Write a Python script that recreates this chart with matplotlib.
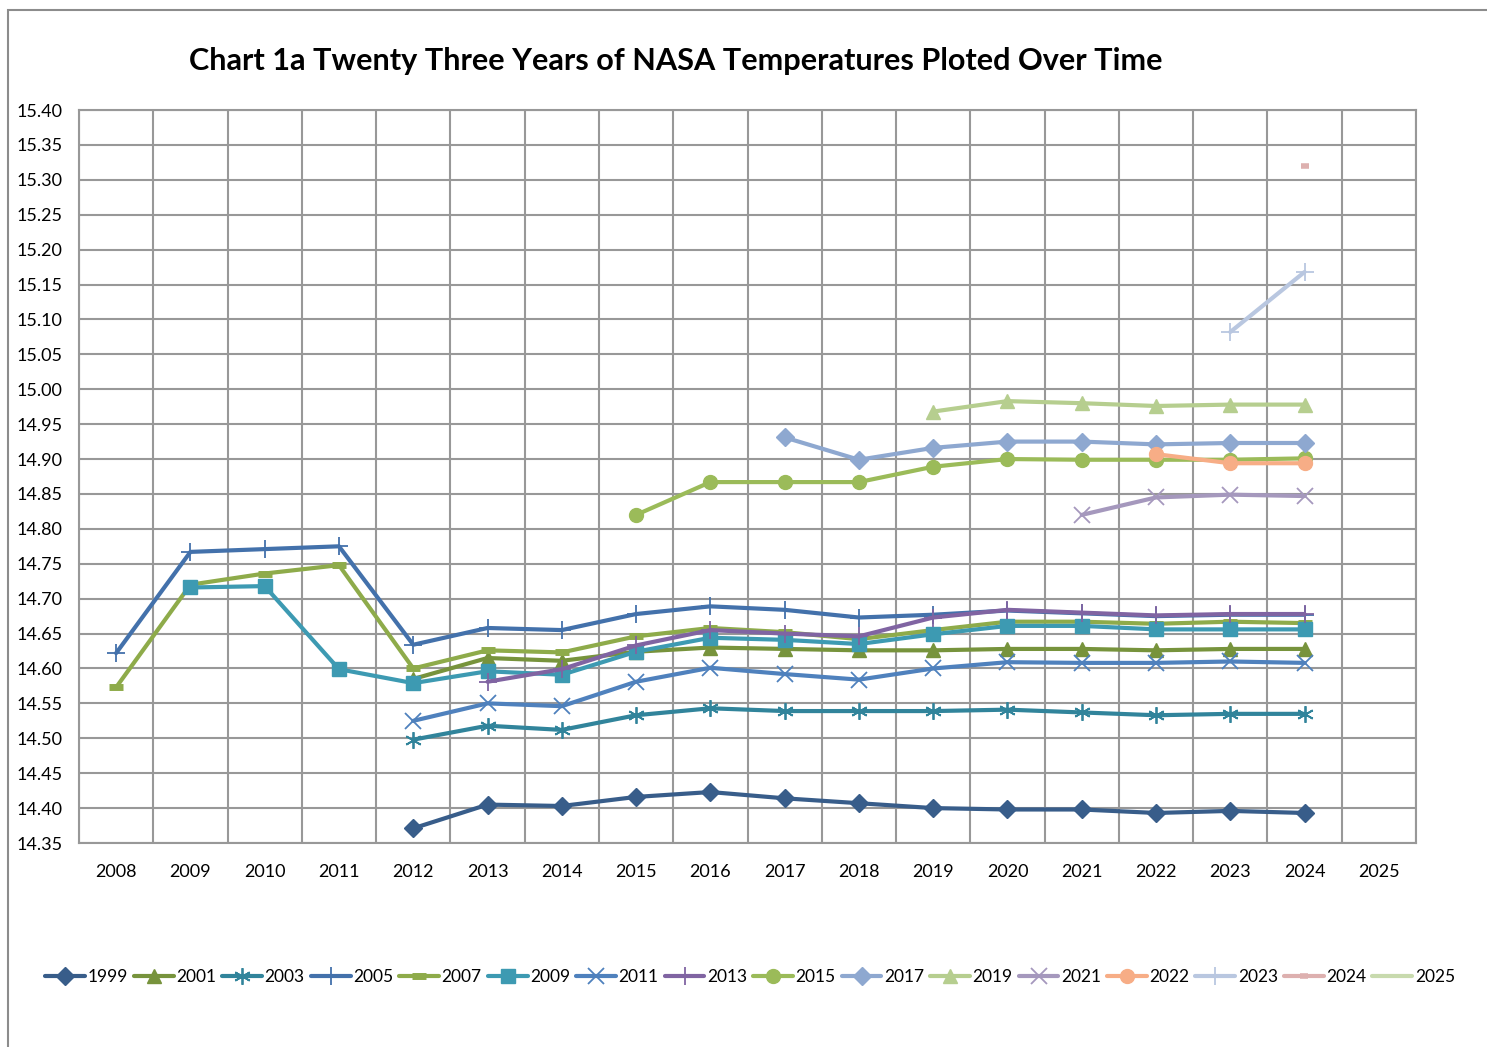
import numpy as np
import matplotlib
matplotlib.use("Agg")
import matplotlib.pyplot as plt
from matplotlib import font_manager
from matplotlib.patches import Rectangle

avail = {f.name for f in font_manager.fontManager.ttflist}
FONT = next((f for f in ["Lato", "Roboto", "Open Sans"] if f in avail), "DejaVu Sans")
plt.rcParams['font.family'] = [FONT, 'DejaVu Sans']

categories = [str(y) for y in range(2008, 2026)]
nan = np.nan

s1999 = [nan, nan, nan, nan, 14.371, 14.405, 14.403, 14.416, 14.423, 14.414, 14.407, 14.400, 14.398, 14.398, 14.393, 14.396, 14.393, nan]
s2001 = [nan, nan, nan, nan, 14.585, 14.615, 14.611, 14.624, 14.630, 14.628, 14.626, 14.626, 14.628, 14.628, 14.626, 14.628, 14.628, nan]
s2003 = [nan, nan, nan, nan, 14.498, 14.518, 14.512, 14.533, 14.543, 14.539, 14.539, 14.539, 14.541, 14.537, 14.533, 14.535, 14.535, nan]
s2005 = [14.622, 14.767, 14.771, 14.775, 14.634, 14.658, 14.655, 14.678, 14.689, 14.684, 14.673, 14.677, 14.683, 14.679, 14.675, 14.677, 14.677, nan]
s2007 = [14.573, 14.720, 14.736, 14.748, 14.600, 14.626, 14.623, 14.646, 14.658, 14.652, 14.642, 14.655, 14.667, 14.667, 14.664, 14.667, 14.665, nan]
s2009 = [nan, 14.716, 14.718, 14.599, 14.579, 14.596, 14.591, 14.624, 14.644, 14.641, 14.635, 14.649, 14.661, 14.661, 14.656, 14.656, 14.656, nan]
s2011 = [nan, nan, nan, nan, 14.525, 14.550, 14.546, 14.581, 14.601, 14.592, 14.584, 14.600, 14.609, 14.608, 14.608, 14.610, 14.608, nan]
s2013 = [nan, nan, nan, nan, nan, 14.581, 14.599, 14.633, 14.655, 14.650, 14.646, 14.673, 14.684, 14.680, 14.676, 14.678, 14.678, nan]
s2015 = [nan, nan, nan, nan, nan, nan, nan, 14.820, 14.867, 14.867, 14.867, 14.889, 14.900, 14.899, 14.899, 14.899, 14.901, nan]
s2017 = [nan, nan, nan, nan, nan, nan, nan, nan, nan, 14.931, 14.899, 14.916, 14.925, 14.925, 14.921, 14.923, 14.923, nan]
s2019 = [nan, nan, nan, nan, nan, nan, nan, nan, nan, nan, nan, 14.968, 14.983, 14.980, 14.976, 14.978, 14.978, nan]
s2021 = [nan, nan, nan, nan, nan, nan, nan, nan, nan, nan, nan, nan, nan, 14.820, 14.845, 14.849, 14.847, nan]
s2022 = [nan, nan, nan, nan, nan, nan, nan, nan, nan, nan, nan, nan, nan, nan, 14.907, 14.894, 14.894, nan]
s2023 = [nan, nan, nan, nan, nan, nan, nan, nan, nan, nan, nan, nan, nan, nan, nan, 15.082, 15.168, nan]
s2024 = [nan, nan, nan, nan, nan, nan, nan, nan, nan, nan, nan, nan, nan, nan, nan, nan, 15.320, nan]
s2025 = [nan] * 18

series_names = ["1999", "2001", "2003", "2005", "2007", "2009", "2011", "2013",
                "2015", "2017", "2019", "2021", "2022", "2023", "2024", "2025"]
series_values = [s1999, s2001, s2003, s2005, s2007, s2009, s2011, s2013,
                 s2015, s2017, s2019, s2021, s2022, s2023, s2024, s2025]

styles = {
    "1999": dict(color="#385D8A", marker="D", ms=9),
    "2001": dict(color="#77933C", marker="^", ms=10),
    "2003": dict(color="#31849B", marker=(6, 2, 0), ms=12, mew=1.3),
    "2005": dict(color="#4371AB", marker="+", ms=13, mew=1.3),
    "2007": dict(color="#8EAB4A", marker="_", ms=10, mew=5),
    "2009": dict(color="#3D9AB2", marker="s", ms=10),
    "2011": dict(color="#4F81BD", marker="x", ms=11, mew=1.3),
    "2013": dict(color="#8064A2", marker="+", ms=13, mew=1.3),
    "2015": dict(color="#9BBB59", marker="o", ms=10),
    "2017": dict(color="#8EA8D0", marker="D", ms=9),
    "2019": dict(color="#B6CE8F", marker="^", ms=10),
    "2021": dict(color="#A598BD", marker="x", ms=11, mew=1.3),
    "2022": dict(color="#F7AD86", marker="o", ms=10),
    "2023": dict(color="#B9C7E0", marker="+", ms=13, mew=1.3),
    "2024": dict(color="#DDB0AF", marker="_", ms=6, mew=4),
    "2025": dict(color="#C8DAAE", marker=None, ms=0),
}

fig = plt.figure(figsize=(14.87, 10.47), dpi=100)
ax = fig.add_axes([79/1487, 1 - 843/1047, (1416-79)/1487, (843-110)/1047])

x = np.arange(len(categories))
for name, vals in zip(series_names, series_values):
    st = styles[name]
    ax.plot(x, vals, color=st["color"], lw=3, marker=st["marker"], ms=st["ms"],
            mew=st.get("mew", 1), mec=st["color"], mfc=st["color"], label=name,
            solid_joinstyle="round", solid_capstyle="round")

ax.set_xlim(-0.5, len(categories) - 0.5)
ax.set_ylim(14.35, 15.40)
yt = np.round(np.arange(14.35, 15.401, 0.05), 2)
ax.set_yticks(yt)
ax.set_yticklabels([f"{v:.2f}" for v in yt])
ax.set_xticks(x)
ax.set_xticklabels(categories)
ax.set_xticks(np.arange(-0.5, len(categories), 1.0), minor=True)
ax.tick_params(axis="both", which="both", length=0, labelsize=13, colors="#000000")
ax.tick_params(axis="x", pad=15)
ax.tick_params(axis="y", pad=12)
ax.grid(True, axis="y", which="major", color="#989898", lw=1.5)
ax.grid(True, axis="x", which="minor", color="#989898", lw=1.5)
ax.set_axisbelow(True)
for sp in ax.spines.values():
    sp.set_color("#989898")
    sp.set_linewidth(1.5)

title = fig.text(676/1487, 1 - 61/1047, "Chart 1a Twenty Three Years of NASA Temperatures Ploted Over Time",
                 ha="center", va="center", fontsize=24, fontweight="bold")
fig.canvas.draw()
w = title.get_window_extent().width
title.set_fontsize(24 * 972 / w)

LEG_FS = 12.5
def make_legend(colsp):
    return fig.legend(loc="center", bbox_to_anchor=(750/1487, 1 - 977/1047), ncol=16, frameon=False,
                      fontsize=LEG_FS, handlelength=2.3, columnspacing=colsp, handletextpad=0.15,
                      borderaxespad=0, borderpad=0)

leg = make_legend(0.4)
fig.canvas.draw()
W = leg.get_window_extent().width
colsp = 0.4 + (1410 - W) / 15 / (LEG_FS * 100 / 72)
leg.remove()
leg = make_legend(max(colsp, 0.05))

fig.patches.append(Rectangle((8/1487, -0.1), 1.2, 1 - 10/1047 + 0.1, transform=fig.transFigure,
                             fill=False, edgecolor="#8c8c8c", lw=1.5))

fig.savefig("out.png", dpi=100)
